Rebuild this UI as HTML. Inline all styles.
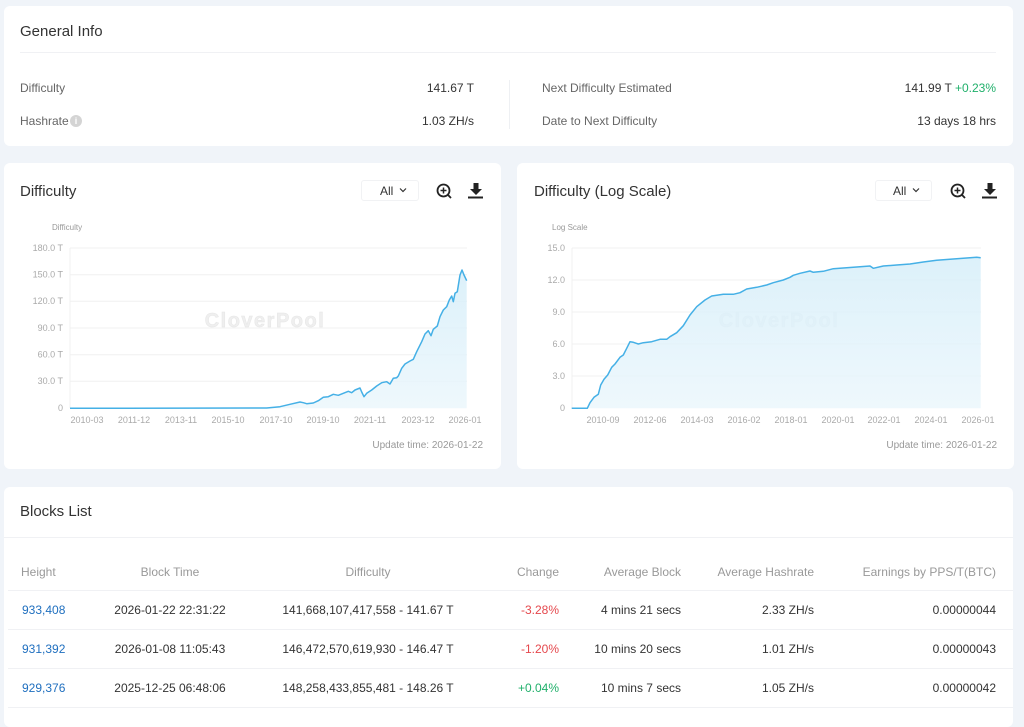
<!DOCTYPE html>
<html><head><meta charset="utf-8">
<style>
*{box-sizing:border-box;margin:0;padding:0}
html,body{width:1024px;height:709px;overflow:hidden;background:#f0f4f9;font-family:"Liberation Sans",Arial,sans-serif;color:#333}
.card{position:absolute;background:#fff;border-radius:6px}
.t{position:absolute;white-space:nowrap;line-height:1}
.r{text-align:right}
.lab{font-size:12px;color:#666}
.val{font-size:12px;color:#333}
.title{font-size:15px;color:#333}
.hd{font-size:12px;color:#999}
.cell{font-size:12px;color:#333}
.blue{color:#1f6fbf}
.red{color:#e5484d}
.green{color:#20b06b}
.hr{position:absolute;height:1px;background:#f0f1f4}
.sel{position:absolute;border:1px solid #f1f2f4;border-radius:3px;font-size:12px;color:#333}
</style></head><body>

<!-- General Info -->
<div class="card" style="left:4px;top:6px;width:1009px;height:140px"></div>
<div class="t title" style="left:20px;top:24px">General Info</div>
<div class="hr" style="left:20px;top:52px;width:976px"></div>
<div class="t lab" style="left:20px;top:82px">Difficulty</div>
<div class="t val r" style="left:374px;width:100px;top:82px">141.67 T</div>
<div class="t lab" style="left:20px;top:115px">Hashrate</div>
<div style="position:absolute;left:70px;top:115px;width:12px;height:12px;border-radius:50%;background:#d4d4d4;color:#fff;font-size:9px;line-height:12px;text-align:center;font-weight:bold">i</div>
<div class="t val r" style="left:374px;width:100px;top:115px">1.03 ZH/s</div>
<div style="position:absolute;left:509px;top:80px;width:1px;height:49px;background:#eef0f3"></div>
<div class="t lab" style="left:542px;top:82px">Next Difficulty Estimated</div>
<div class="t val r" style="left:796px;width:200px;top:82px">141.99 T <span class="green">+0.23%</span></div>
<div class="t lab" style="left:542px;top:115px">Date to Next Difficulty</div>
<div class="t val r" style="left:796px;width:200px;top:115px">13 days 18 hrs</div>

<!-- Chart cards -->
<div class="card" style="left:4px;top:163px;width:497px;height:306px"></div>
<div class="card" style="left:517px;top:163px;width:497px;height:306px"></div>
<div class="t title" style="left:20px;top:184px">Difficulty</div>
<div class="t title" style="left:534px;top:184px">Difficulty (Log Scale)</div>
<div class="sel" style="left:361px;top:180px;width:58px;height:21px"></div>
<div class="sel" style="left:875px;top:180px;width:57px;height:21px"></div>

<!-- Blocks list -->
<div class="card" style="left:4px;top:487px;width:1009px;height:240px"></div>
<div class="t title" style="left:20px;top:504px">Blocks List</div>
<div class="hr" style="left:4px;top:537px;width:1009px"></div>

<div class="t hd" style="left:21px;top:566px">Height</div>
<div class="t hd" style="left:90px;width:160px;text-align:center;top:566px">Block Time</div>
<div class="t hd" style="left:268px;width:200px;text-align:center;top:566px">Difficulty</div>
<div class="t hd r" style="left:459px;width:100px;top:566px">Change</div>
<div class="t hd r" style="left:561px;width:120px;top:566px">Average Block</div>
<div class="t hd r" style="left:674px;width:140px;top:566px">Average Hashrate</div>
<div class="t hd r" style="left:826px;width:170px;top:566px">Earnings by PPS/T(BTC)</div>
<div class="hr" style="left:8px;top:590px;width:1005px"></div>

<div class="t cell blue" style="left:22px;top:604px">933,408</div>
<div class="t cell" style="left:90px;width:160px;text-align:center;top:604px">2026-01-22 22:31:22</div>
<div class="t cell" style="left:268px;width:200px;text-align:center;top:604px">141,668,107,417,558 - 141.67 T</div>
<div class="t cell r red" style="left:459px;width:100px;top:604px">-3.28%</div>
<div class="t cell r" style="left:561px;width:120px;top:604px">4 mins 21 secs</div>
<div class="t cell r" style="left:674px;width:140px;top:604px">2.33 ZH/s</div>
<div class="t cell r" style="left:826px;width:170px;top:604px">0.00000044</div>
<div class="hr" style="left:8px;top:629px;width:1005px"></div>

<div class="t cell blue" style="left:22px;top:643px">931,392</div>
<div class="t cell" style="left:90px;width:160px;text-align:center;top:643px">2026-01-08 11:05:43</div>
<div class="t cell" style="left:268px;width:200px;text-align:center;top:643px">146,472,570,619,930 - 146.47 T</div>
<div class="t cell r red" style="left:459px;width:100px;top:643px">-1.20%</div>
<div class="t cell r" style="left:561px;width:120px;top:643px">10 mins 20 secs</div>
<div class="t cell r" style="left:674px;width:140px;top:643px">1.01 ZH/s</div>
<div class="t cell r" style="left:826px;width:170px;top:643px">0.00000043</div>
<div class="hr" style="left:8px;top:668px;width:1005px"></div>

<div class="t cell blue" style="left:22px;top:682px">929,376</div>
<div class="t cell" style="left:90px;width:160px;text-align:center;top:682px">2025-12-25 06:48:06</div>
<div class="t cell" style="left:268px;width:200px;text-align:center;top:682px">148,258,433,855,481 - 148.26 T</div>
<div class="t cell r green" style="left:459px;width:100px;top:682px">+0.04%</div>
<div class="t cell r" style="left:561px;width:120px;top:682px">10 mins 7 secs</div>
<div class="t cell r" style="left:674px;width:140px;top:682px">1.05 ZH/s</div>
<div class="t cell r" style="left:826px;width:170px;top:682px">0.00000042</div>
<div class="hr" style="left:8px;top:707px;width:1005px"></div>

<svg width="1024" height="709" viewBox="0 0 1024 709" style="position:absolute;left:0;top:0" font-family="Liberation Sans, Arial, sans-serif">
<defs>
<linearGradient id="g1" x1="0" y1="0" x2="0" y2="1">
<stop offset="0" stop-color="#d6eef9" stop-opacity="0.85"/>
<stop offset="1" stop-color="#eaf6fc" stop-opacity="0.8"/>
</linearGradient>
</defs>
<g font-size="12" fill="#333">
<text x="380" y="195">All</text>
<text x="893" y="195">All</text>
</g>
<g fill="none" stroke="#333" stroke-width="1.2">
<path d="M400 188.5 l3 3 l3 -3"/>
<path d="M913 188.5 l3 3 l3 -3"/>
</g>
<g fill="none" stroke="#222" stroke-width="1.8">
<circle cx="443.5" cy="190.5" r="6"/>
<path d="M447.8 194.8 l3.2 3.2"/>
<path d="M443.5 187.5 v6 M440.5 190.5 h6" stroke-width="1.5"/>
<circle cx="957.5" cy="190.5" r="6"/>
<path d="M961.8 194.8 l3.2 3.2"/>
<path d="M957.5 187.5 v6 M954.5 190.5 h6" stroke-width="1.5"/>
</g>
<g fill="#222">
<path d="M473.5 183 h5 v6 h3.5 l-6 6 l-6 -6 h3.5z"/>
<rect x="468" y="196.5" width="15" height="2"/>
<path d="M987.5 183 h5 v6 h3.5 l-6 6 l-6 -6 h3.5z"/>
<rect x="982" y="196.5" width="15" height="2"/>
</g>

<!-- Linear chart -->
<g stroke="#f0f0f0" stroke-width="1">
<line x1="70" y1="248" x2="467" y2="248"/>
<line x1="70" y1="274.7" x2="467" y2="274.7"/>
<line x1="70" y1="301.3" x2="467" y2="301.3"/>
<line x1="70" y1="328" x2="467" y2="328"/>
<line x1="70" y1="354.7" x2="467" y2="354.7"/>
<line x1="70" y1="381.3" x2="467" y2="381.3"/>
<line x1="70" y1="248" x2="70" y2="408"/>
</g>
<text x="52" y="230" font-size="8" fill="#999">Difficulty</text>
<g font-size="9" fill="#aaa" text-anchor="end">
<text x="63" y="251">180.0 T</text>
<text x="63" y="277.5">150.0 T</text>
<text x="63" y="304">120.0 T</text>
<text x="63" y="331">90.0 T</text>
<text x="63" y="357.5">60.0 T</text>
<text x="63" y="384">30.0 T</text>
<text x="63" y="411">0</text>
</g>
<g font-size="9" fill="#aaa" text-anchor="middle">
<text x="87" y="423">2010-03</text>
<text x="134" y="423">2011-12</text>
<text x="181" y="423">2013-11</text>
<text x="228" y="423">2015-10</text>
<text x="276" y="423">2017-10</text>
<text x="323" y="423">2019-10</text>
<text x="370" y="423">2021-11</text>
<text x="418" y="423">2023-12</text>
<text x="465" y="423">2026-01</text>
</g>
<text x="265" y="327" font-size="20" font-weight="bold" fill="#efefef" stroke="#e6e6e6" stroke-width="0.5" text-anchor="middle" letter-spacing="1.5">CloverPool</text>
<polygon fill="url(#g1)" points="70,408.3 266.7,408 280,406.7 290,404.3 300,402 303.3,402.7 306.7,403.7 313.3,403 318.3,400.7 323.3,397.3 328.3,396.7 333.3,394.3 338.3,395.3 343.3,393.3 348.3,391.3 351.7,392.7 355,390 360,388 361.7,392 364,396.7 366.7,393.3 371.7,390 376.7,386 381.7,382.7 386.7,381.7 390,384 393.3,378.3 396.7,377.7 398.3,376 401.7,368.3 405,364 410,361 413.3,359.3 416.7,351.7 421.7,341.7 425,334 428.3,330.7 431,335.7 433.3,329.3 437.3,326 440,316.7 443.3,310 446.7,306.7 449.3,300 451.7,296 453.3,301.7 455,293.3 457.3,291.7 460,275 462,270 464,275 466.7,280.7 466.7,408.3"/>
<polyline fill="none" stroke="#45b0e6" stroke-width="1.5" stroke-linejoin="round" points="70,408.3 266.7,408 280,406.7 290,404.3 300,402 303.3,402.7 306.7,403.7 313.3,403 318.3,400.7 323.3,397.3 328.3,396.7 333.3,394.3 338.3,395.3 343.3,393.3 348.3,391.3 351.7,392.7 355,390 360,388 361.7,392 364,396.7 366.7,393.3 371.7,390 376.7,386 381.7,382.7 386.7,381.7 390,384 393.3,378.3 396.7,377.7 398.3,376 401.7,368.3 405,364 410,361 413.3,359.3 416.7,351.7 421.7,341.7 425,334 428.3,330.7 431,335.7 433.3,329.3 437.3,326 440,316.7 443.3,310 446.7,306.7 449.3,300 451.7,296 453.3,301.7 455,293.3 457.3,291.7 460,275 462,270 464,275 466.7,280.7"/>
<text x="483" y="448" font-size="10" fill="#999" text-anchor="end">Update time: 2026-01-22</text>

<!-- Log chart -->
<g stroke="#f0f0f0" stroke-width="1">
<line x1="572" y1="248" x2="981" y2="248"/>
<line x1="572" y1="280" x2="981" y2="280"/>
<line x1="572" y1="312" x2="981" y2="312"/>
<line x1="572" y1="344" x2="981" y2="344"/>
<line x1="572" y1="376" x2="981" y2="376"/>
<line x1="572" y1="248" x2="572" y2="408"/>
</g>
<text x="552" y="230" font-size="8" fill="#999">Log Scale</text>
<g font-size="9" fill="#aaa" text-anchor="end">
<text x="565" y="251">15.0</text>
<text x="565" y="283">12.0</text>
<text x="565" y="315">9.0</text>
<text x="565" y="347">6.0</text>
<text x="565" y="379">3.0</text>
<text x="565" y="411">0</text>
</g>
<g font-size="9" fill="#aaa" text-anchor="middle">
<text x="603" y="423">2010-09</text>
<text x="650" y="423">2012-06</text>
<text x="697" y="423">2014-03</text>
<text x="744" y="423">2016-02</text>
<text x="791" y="423">2018-01</text>
<text x="838" y="423">2020-01</text>
<text x="884" y="423">2022-01</text>
<text x="931" y="423">2024-01</text>
<text x="978" y="423">2026-01</text>
</g>
<text x="779" y="327" font-size="20" font-weight="bold" fill="#e9eef1" stroke="#e2e6e8" stroke-width="0.5" text-anchor="middle" letter-spacing="1.5">CloverPool</text>
<polygon fill="url(#g1)" points="571.7,408.3 587.3,408.3 590,402.7 594,397.3 598.3,394.3 600.7,385 604,379.3 607.7,375 611.7,367.3 615,364 620,357.3 623.3,355 626.7,348.3 630,341.7 633.3,342.3 638.3,344 643.3,342.7 651.7,341.7 660,339.3 666.7,339.3 670,336.7 676.7,332.7 683.3,325.7 690,315 696.7,306.7 705,300 711.7,296 723.3,294.3 733.3,294.3 740,292.7 746.7,289 756.7,287.3 766.7,285 773.3,282.7 783.3,280 790,277.3 793.3,275.3 800,273.3 810,271 813.3,272.3 823.3,271.3 833.3,268.7 843.3,268 856.7,267 870,266 873.3,268.3 883.3,266 896.7,265 910,264 923.3,262 936.7,260.3 950,259.3 963.3,258.3 976.7,257.3 980.7,257.7 980.7,408.3"/>
<polyline fill="none" stroke="#45b0e6" stroke-width="1.5" stroke-linejoin="round" points="571.7,408.3 587.3,408.3 590,402.7 594,397.3 598.3,394.3 600.7,385 604,379.3 607.7,375 611.7,367.3 615,364 620,357.3 623.3,355 626.7,348.3 630,341.7 633.3,342.3 638.3,344 643.3,342.7 651.7,341.7 660,339.3 666.7,339.3 670,336.7 676.7,332.7 683.3,325.7 690,315 696.7,306.7 705,300 711.7,296 723.3,294.3 733.3,294.3 740,292.7 746.7,289 756.7,287.3 766.7,285 773.3,282.7 783.3,280 790,277.3 793.3,275.3 800,273.3 810,271 813.3,272.3 823.3,271.3 833.3,268.7 843.3,268 856.7,267 870,266 873.3,268.3 883.3,266 896.7,265 910,264 923.3,262 936.7,260.3 950,259.3 963.3,258.3 976.7,257.3 980.7,257.7"/>
<text x="997" y="448" font-size="10" fill="#999" text-anchor="end">Update time: 2026-01-22</text>
</svg>
</body></html>
